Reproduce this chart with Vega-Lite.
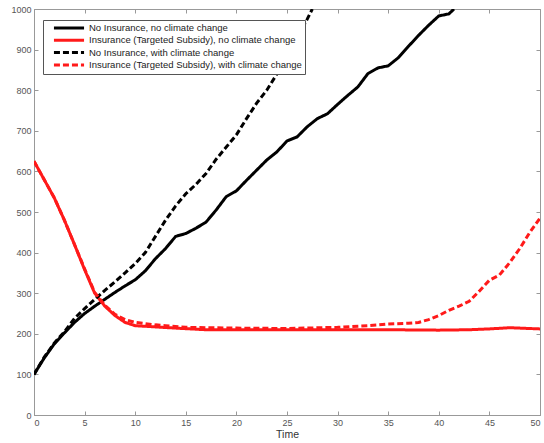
{
  "$schema": "https://vega.github.io/schema/vega-lite/v6.json",
  "width": 506,
  "height": 406,
  "autosize": {"type": "none"},
  "padding": {"left": 34, "top": 9, "right": 4, "bottom": 28},
  "background": "white",
  "config": {
    "view": {"stroke": "#999999", "strokeWidth": 1},
    "font": "Liberation Sans",
    "axis": {
      "domainColor": "#999999",
      "tickColor": "#999999",
      "labelColor": "#555555",
      "labelFontSize": 9,
      "titleFontSize": 10.5,
      "titleFontWeight": "normal",
      "titleColor": "#333333",
      "grid": false,
      "tickSize": -4,
      "labelPadding": 7
    },
    "legend": {
      "title": null, "orient": "none", "legendX": 9, "legendY": 11,
      "symbolType": "M-4.3,0L4.3,0", "symbolSize": 49, "symbolStrokeWidth": 3,
      "symbolOffset": 18, "labelOffset": 15,
      "labelFontSize": 9.5, "labelColor": "#222222", "labelLimit": 400,
      "strokeColor": "#555555", "fillColor": "white", "padding": 3, "rowPadding": 0.3
    }
  },
  "data": {
    "values": [
      {"t":0,"v":100,"s":"No Insurance, no climate change"},
      {"t":1,"v":140,"s":"No Insurance, no climate change"},
      {"t":2,"v":175,"s":"No Insurance, no climate change"},
      {"t":3,"v":202,"s":"No Insurance, no climate change"},
      {"t":4,"v":228,"s":"No Insurance, no climate change"},
      {"t":5,"v":250,"s":"No Insurance, no climate change"},
      {"t":6,"v":268,"s":"No Insurance, no climate change"},
      {"t":7,"v":285,"s":"No Insurance, no climate change"},
      {"t":8,"v":302,"s":"No Insurance, no climate change"},
      {"t":9,"v":318,"s":"No Insurance, no climate change"},
      {"t":10,"v":333,"s":"No Insurance, no climate change"},
      {"t":11,"v":355,"s":"No Insurance, no climate change"},
      {"t":12,"v":385,"s":"No Insurance, no climate change"},
      {"t":13,"v":410,"s":"No Insurance, no climate change"},
      {"t":14,"v":440,"s":"No Insurance, no climate change"},
      {"t":15,"v":447,"s":"No Insurance, no climate change"},
      {"t":16,"v":460,"s":"No Insurance, no climate change"},
      {"t":17,"v":475,"s":"No Insurance, no climate change"},
      {"t":18,"v":505,"s":"No Insurance, no climate change"},
      {"t":19,"v":538,"s":"No Insurance, no climate change"},
      {"t":20,"v":552,"s":"No Insurance, no climate change"},
      {"t":21,"v":578,"s":"No Insurance, no climate change"},
      {"t":22,"v":603,"s":"No Insurance, no climate change"},
      {"t":23,"v":628,"s":"No Insurance, no climate change"},
      {"t":24,"v":648,"s":"No Insurance, no climate change"},
      {"t":25,"v":675,"s":"No Insurance, no climate change"},
      {"t":26,"v":685,"s":"No Insurance, no climate change"},
      {"t":27,"v":710,"s":"No Insurance, no climate change"},
      {"t":28,"v":730,"s":"No Insurance, no climate change"},
      {"t":29,"v":742,"s":"No Insurance, no climate change"},
      {"t":30,"v":765,"s":"No Insurance, no climate change"},
      {"t":31,"v":787,"s":"No Insurance, no climate change"},
      {"t":32,"v":808,"s":"No Insurance, no climate change"},
      {"t":33,"v":841,"s":"No Insurance, no climate change"},
      {"t":34,"v":855,"s":"No Insurance, no climate change"},
      {"t":35,"v":860,"s":"No Insurance, no climate change"},
      {"t":36,"v":880,"s":"No Insurance, no climate change"},
      {"t":37,"v":908,"s":"No Insurance, no climate change"},
      {"t":38,"v":935,"s":"No Insurance, no climate change"},
      {"t":39,"v":960,"s":"No Insurance, no climate change"},
      {"t":40,"v":983,"s":"No Insurance, no climate change"},
      {"t":41,"v":988,"s":"No Insurance, no climate change"},
      {"t":41.5,"v":1000,"s":"No Insurance, no climate change"},

      {"t":0,"v":625,"s":"Insurance (Targeted Subsidy), no climate change"},
      {"t":1,"v":580,"s":"Insurance (Targeted Subsidy), no climate change"},
      {"t":2,"v":535,"s":"Insurance (Targeted Subsidy), no climate change"},
      {"t":3,"v":480,"s":"Insurance (Targeted Subsidy), no climate change"},
      {"t":4,"v":420,"s":"Insurance (Targeted Subsidy), no climate change"},
      {"t":5,"v":358,"s":"Insurance (Targeted Subsidy), no climate change"},
      {"t":6,"v":300,"s":"Insurance (Targeted Subsidy), no climate change"},
      {"t":7,"v":268,"s":"Insurance (Targeted Subsidy), no climate change"},
      {"t":8,"v":245,"s":"Insurance (Targeted Subsidy), no climate change"},
      {"t":9,"v":228,"s":"Insurance (Targeted Subsidy), no climate change"},
      {"t":10,"v":220,"s":"Insurance (Targeted Subsidy), no climate change"},
      {"t":12,"v":217,"s":"Insurance (Targeted Subsidy), no climate change"},
      {"t":14,"v":214,"s":"Insurance (Targeted Subsidy), no climate change"},
      {"t":17,"v":210,"s":"Insurance (Targeted Subsidy), no climate change"},
      {"t":20,"v":210,"s":"Insurance (Targeted Subsidy), no climate change"},
      {"t":25,"v":210,"s":"Insurance (Targeted Subsidy), no climate change"},
      {"t":30,"v":210,"s":"Insurance (Targeted Subsidy), no climate change"},
      {"t":35,"v":210,"s":"Insurance (Targeted Subsidy), no climate change"},
      {"t":40,"v":209,"s":"Insurance (Targeted Subsidy), no climate change"},
      {"t":43,"v":210,"s":"Insurance (Targeted Subsidy), no climate change"},
      {"t":45,"v":212,"s":"Insurance (Targeted Subsidy), no climate change"},
      {"t":47,"v":215,"s":"Insurance (Targeted Subsidy), no climate change"},
      {"t":48,"v":214,"s":"Insurance (Targeted Subsidy), no climate change"},
      {"t":50,"v":212,"s":"Insurance (Targeted Subsidy), no climate change"},

      {"t":0,"v":100,"s":"No Insurance, with climate change"},
      {"t":1,"v":142,"s":"No Insurance, with climate change"},
      {"t":2,"v":177,"s":"No Insurance, with climate change"},
      {"t":3,"v":205,"s":"No Insurance, with climate change"},
      {"t":4,"v":238,"s":"No Insurance, with climate change"},
      {"t":5,"v":262,"s":"No Insurance, with climate change"},
      {"t":6,"v":285,"s":"No Insurance, with climate change"},
      {"t":7,"v":307,"s":"No Insurance, with climate change"},
      {"t":8,"v":328,"s":"No Insurance, with climate change"},
      {"t":9,"v":350,"s":"No Insurance, with climate change"},
      {"t":10,"v":373,"s":"No Insurance, with climate change"},
      {"t":11,"v":400,"s":"No Insurance, with climate change"},
      {"t":12,"v":440,"s":"No Insurance, with climate change"},
      {"t":13,"v":480,"s":"No Insurance, with climate change"},
      {"t":14,"v":515,"s":"No Insurance, with climate change"},
      {"t":15,"v":545,"s":"No Insurance, with climate change"},
      {"t":16,"v":568,"s":"No Insurance, with climate change"},
      {"t":17,"v":595,"s":"No Insurance, with climate change"},
      {"t":18,"v":630,"s":"No Insurance, with climate change"},
      {"t":19,"v":660,"s":"No Insurance, with climate change"},
      {"t":20,"v":690,"s":"No Insurance, with climate change"},
      {"t":21,"v":730,"s":"No Insurance, with climate change"},
      {"t":22,"v":768,"s":"No Insurance, with climate change"},
      {"t":23,"v":800,"s":"No Insurance, with climate change"},
      {"t":24,"v":840,"s":"No Insurance, with climate change"},
      {"t":25,"v":880,"s":"No Insurance, with climate change"},
      {"t":26,"v":930,"s":"No Insurance, with climate change"},
      {"t":27,"v":975,"s":"No Insurance, with climate change"},
      {"t":27.5,"v":1000,"s":"No Insurance, with climate change"},

      {"t":0,"v":625,"s":"Insurance (Targeted Subsidy), with climate change"},
      {"t":1,"v":580,"s":"Insurance (Targeted Subsidy), with climate change"},
      {"t":2,"v":535,"s":"Insurance (Targeted Subsidy), with climate change"},
      {"t":3,"v":480,"s":"Insurance (Targeted Subsidy), with climate change"},
      {"t":4,"v":420,"s":"Insurance (Targeted Subsidy), with climate change"},
      {"t":5,"v":360,"s":"Insurance (Targeted Subsidy), with climate change"},
      {"t":6,"v":302,"s":"Insurance (Targeted Subsidy), with climate change"},
      {"t":7,"v":270,"s":"Insurance (Targeted Subsidy), with climate change"},
      {"t":8,"v":248,"s":"Insurance (Targeted Subsidy), with climate change"},
      {"t":9,"v":235,"s":"Insurance (Targeted Subsidy), with climate change"},
      {"t":10,"v":228,"s":"Insurance (Targeted Subsidy), with climate change"},
      {"t":11,"v":225,"s":"Insurance (Targeted Subsidy), with climate change"},
      {"t":12,"v":222,"s":"Insurance (Targeted Subsidy), with climate change"},
      {"t":13,"v":220,"s":"Insurance (Targeted Subsidy), with climate change"},
      {"t":15,"v":216,"s":"Insurance (Targeted Subsidy), with climate change"},
      {"t":17,"v":215,"s":"Insurance (Targeted Subsidy), with climate change"},
      {"t":20,"v":214,"s":"Insurance (Targeted Subsidy), with climate change"},
      {"t":25,"v":213,"s":"Insurance (Targeted Subsidy), with climate change"},
      {"t":30,"v":216,"s":"Insurance (Targeted Subsidy), with climate change"},
      {"t":33,"v":220,"s":"Insurance (Targeted Subsidy), with climate change"},
      {"t":35,"v":224,"s":"Insurance (Targeted Subsidy), with climate change"},
      {"t":37,"v":226,"s":"Insurance (Targeted Subsidy), with climate change"},
      {"t":38,"v":228,"s":"Insurance (Targeted Subsidy), with climate change"},
      {"t":39,"v":235,"s":"Insurance (Targeted Subsidy), with climate change"},
      {"t":40,"v":245,"s":"Insurance (Targeted Subsidy), with climate change"},
      {"t":41,"v":258,"s":"Insurance (Targeted Subsidy), with climate change"},
      {"t":42,"v":268,"s":"Insurance (Targeted Subsidy), with climate change"},
      {"t":43,"v":280,"s":"Insurance (Targeted Subsidy), with climate change"},
      {"t":44,"v":305,"s":"Insurance (Targeted Subsidy), with climate change"},
      {"t":45,"v":332,"s":"Insurance (Targeted Subsidy), with climate change"},
      {"t":46,"v":345,"s":"Insurance (Targeted Subsidy), with climate change"},
      {"t":47,"v":375,"s":"Insurance (Targeted Subsidy), with climate change"},
      {"t":48,"v":410,"s":"Insurance (Targeted Subsidy), with climate change"},
      {"t":49,"v":450,"s":"Insurance (Targeted Subsidy), with climate change"},
      {"t":50,"v":485,"s":"Insurance (Targeted Subsidy), with climate change"}
    ]
  },
  "resolve": {"axis": {"x": "independent", "y": "independent"}},
  "layer": [
    {
      "mark": {"type": "line", "strokeWidth": 3, "clip": true},
      "encoding": {
        "x": {"field": "t", "type": "quantitative", "scale": {"domain": [0, 50], "nice": false},
          "axis": {"title": "Time", "values": [0,5,10,15,20,25,30,35,40,45,50], "titlePadding": 2}},
        "y": {"field": "v", "type": "quantitative", "scale": {"domain": [0, 1000], "nice": false},
          "axis": {"title": null, "format": "d", "values": [0,100,200,300,400,500,600,700,800,900,1000]}},
        "color": {"field": "s", "type": "nominal",
          "scale": {"domain": ["No Insurance, no climate change","Insurance (Targeted Subsidy), no climate change","No Insurance, with climate change","Insurance (Targeted Subsidy), with climate change"],
                    "range": ["#000000","#ff1a1a","#000000","#ff1a1a"]}},
        "strokeDash": {"field": "s", "type": "nominal",
          "scale": {"domain": ["No Insurance, no climate change","Insurance (Targeted Subsidy), no climate change","No Insurance, with climate change","Insurance (Targeted Subsidy), with climate change"],
                    "range": [[1,0],[1,0],[6,3],[6,3]]}}
      }
    },
    {
      "mark": {"type": "line", "opacity": 0},
      "encoding": {
        "x": {"field": "t", "type": "quantitative", "axis": {"orient": "top", "labels": false, "title": null, "domain": false, "values": [0,5,10,15,20,25,30,35,40,45,50]}},
        "y": {"field": "v", "type": "quantitative", "axis": {"orient": "right", "labels": false, "title": null, "domain": false, "values": [0,100,200,300,400,500,600,700,800,900,1000]}},
        "detail": {"field": "s"}
      }
    }
  ]
}
